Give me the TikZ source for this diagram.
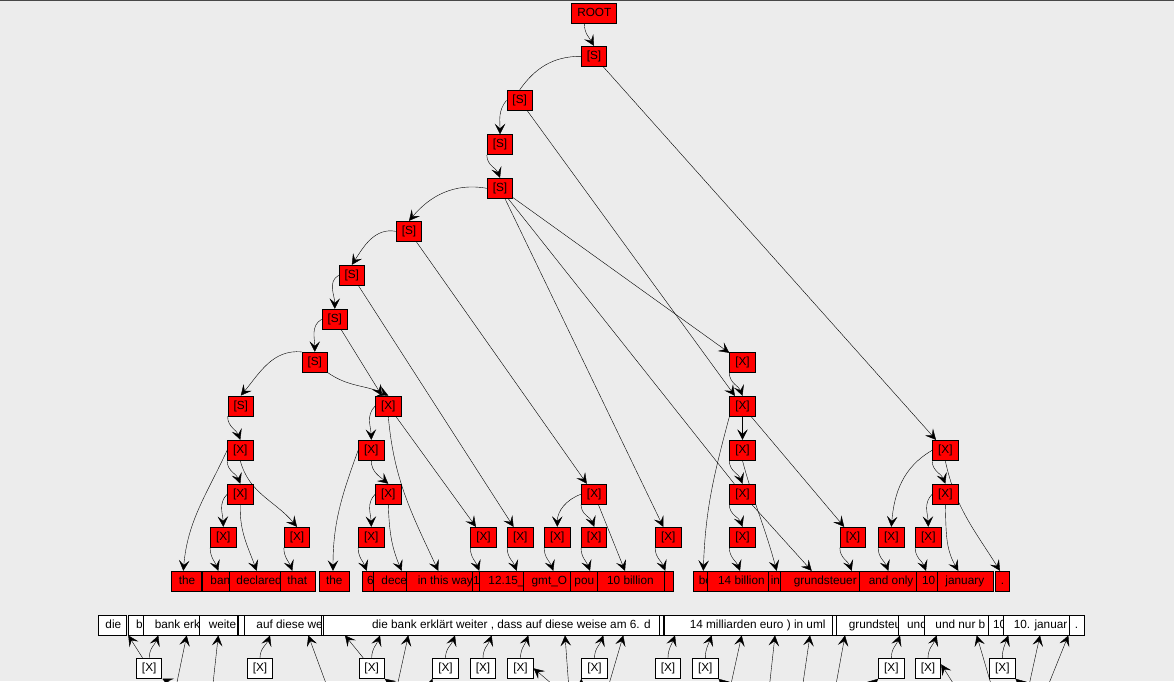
\documentclass[tikz,border=0pt]{standalone}
\usepackage{fontspec}
\setmainfont{Liberation Sans}
\usetikzlibrary{positioning, arrows.meta, backgrounds}
\definecolor{canvas}{RGB}{236,236,236}
\definecolor{rim}{RGB}{72,72,72}
\newcommand{\wordcell}[3]{\makebox[#1pt][l]{\hspace*{#2pt}#3}}

\begin{document}
\begin{tikzpicture}[x=1pt,y=1pt,->,>={Stealth[length=10.5pt,width=10.5pt,inset=4.5pt]},
    line width=0.9pt,font=\fontsize{11.8}{13}\selectfont,
    main node/.style={draw,fill=red,minimum height=20pt,inner xsep=5.5pt,inner ysep=0pt,
      text height=9pt,text depth=3pt,line width=0.9pt},
    white node/.style={main node,fill=white},
    word/.style={draw,fill=red,anchor=west,minimum height=20pt,inner sep=0pt,
      text height=9pt,text depth=3pt,line width=0.9pt},
    gloss/.style={word,fill=white,minimum height=19.3pt},
    drop/.style={out=-90,in=110},
    rise/.style={out=90,in=-110},
    swing/.style={out=225,in=92}]
    \useasboundingbox (0,0) rectangle (1174,-681);
    % derivation
    \node[main node] (root) at (594.3,-13.3) {ROOT};
    \node[main node] (s1) at (594,-56.3) {[S]};
    \node[main node] (s2) at (519.7,-100.3) {[S]};
    \node[main node] (s3) at (500,-144.7) {[S]};
    \node[main node] (s4) at (500,-188.3) {[S]};
    \node[main node] (s5) at (409,-231.3) {[S]};
    \node[main node] (s6) at (351.8,-275.3) {[S]};
    \node[main node] (s7) at (334.8,-319.3) {[S]};
    \node[main node] (s8) at (314.8,-362.3) {[S]};
    \node[main node] (s9) at (240.8,-406) {[S]};
    \node[main node] (xa) at (388.3,-406) {[X]};
    \node[main node] (xb) at (742.5,-362.3) {[X]};
    \node[main node] (xc) at (742.5,-406.3) {[X]};
    \node[main node] (xd) at (945.3,-450.3) {[X]};
    \node[main node] (xe) at (240.3,-450.3) {[X]};
    \node[main node] (xf) at (240.3,-494.2) {[X]};
    \node[main node] (xg) at (223.3,-537.3) {[X]};
    \node[main node] (xh) at (297,-537.3) {[X]};
    \node[main node] (xi) at (371.3,-450.3) {[X]};
    \node[main node] (xj) at (388.3,-494.2) {[X]};
    \node[main node] (xk) at (371.3,-537.3) {[X]};
    \node[main node] (xl) at (483.5,-537.3) {[X]};
    \node[main node] (xm) at (520.3,-537.3) {[X]};
    \node[main node] (xn) at (594.2,-494.2) {[X]};
    \node[main node] (xo) at (557.3,-537.3) {[X]};
    \node[main node] (xp) at (594.2,-537.3) {[X]};
    \node[main node] (xq) at (668.3,-537.3) {[X]};
    \node[main node] (xr) at (742.5,-450.3) {[X]};
    \node[main node] (xs) at (742.5,-494.2) {[X]};
    \node[main node] (xt) at (742.5,-537.3) {[X]};
    \node[main node] (xu) at (853,-537.3) {[X]};
    \node[main node] (xv) at (945.3,-494.2) {[X]};
    \node[main node] (xw) at (891.3,-537.3) {[X]};
    \node[main node] (xx) at (928.3,-537.3) {[X]};
    % english words
    \node[word] (the1) at (171.3,-581.3) {\wordcell{30}{7}{the}};
    \node[word] (bank) at (202.3,-581.3) {\wordcell{27}{7.7}{ban}};
    \node[word] (declared) at (229.3,-581.3) {\wordcell{51}{6.7}{declared}};
    \node[word] (that) at (280.3,-581.3) {\wordcell{35}{6.7}{that}};
    \node[word] (the2) at (319.3,-581.3) {\wordcell{30}{6.4}{the}};
    \node[word] (six) at (362.3,-581.3) {\wordcell{11}{4.4}{6}};
    \node[word] (december) at (373.3,-581.3) {\wordcell{33}{7.7}{dece}};
    \node[word] (thisway) at (406.3,-581.3) {\wordcell{65.4}{11}{in this way}};
    \node[word] (one) at (471.7,-581.3) {\wordcell{7.6}{1}{1}};
    \node[word] (clock) at (479.3,-581.3) {\wordcell{43.4}{8.7}{12.15\_}};
    \node[word] (gmt) at (522.7,-581.3) {\wordcell{47}{8.5}{gmt\_O}};
    \node[word] (pounds) at (569.7,-581.3) {\wordcell{27}{4.3}{pou}};
    \node[word] (tenbn) at (596.7,-581.3) {\wordcell{67}{10}{10 billion}};
    \node[word] (blank) at (663.7,-581.3) {\wordcell{9.6}{0}{}};
    \node[word] (be) at (693.3,-581.3) {\wordcell{14}{5}{be}};
    \node[word] (fourteenbn) at (707.3,-581.3) {\wordcell{61}{10.4}{14 billion}};
    \node[word] (inword) at (768.3,-581.3) {\wordcell{11.7}{2}{in}};
    \node[word] (grundsteuer) at (780,-581.3) {\wordcell{79.3}{13.3}{grundsteuer}};
    \node[word] (andonly) at (859.3,-581.3) {\wordcell{56.7}{9}{and only}};
    \node[word] (ten) at (916,-581.3) {\wordcell{21.3}{5.7}{10}};
    \node[word] (january) at (937.3,-581.3) {\wordcell{56}{7.7}{january}};
    \node[word] (stop) at (995.3,-581.3) {\wordcell{14}{5}{.}};
    % german words
    \node[gloss] (ddie) at (97.7,-625.3) {\wordcell{28.3}{7.3}{die}};
    \node[gloss] (db) at (128.3,-625.3) {\wordcell{15}{7.4}{b}};
    \node[gloss] (dbank) at (143.3,-625.3) {\wordcell{56}{11}{bank erk}};
    \node[gloss] (dweiter) at (199.3,-625.3) {\wordcell{37.4}{9}{weite}};
    \node[gloss] (dgap) at (238.3,-625.3) {\wordcell{5.7}{0}{}};
    \node[gloss] (dauf) at (244,-625.3) {\wordcell{76.7}{12}{auf diese we}};
    \node[gloss] (dtick) at (320.7,-625.3) {\wordcell{2}{0}{}};
    \node[gloss] (dsatz) at (322.7,-625.3) {\wordcell{336.6}{49}{die bank erklärt weiter , dass auf diese weise am 6. d}};
    \node[gloss] (dtick2) at (659.3,-625.3) {\wordcell{4}{0}{}};
    \node[gloss] (dmrd) at (664,-625.3) {\wordcell{167.7}{25.3}{14 milliarden euro ) in uml}};
    \node[gloss] (dtick3) at (831.7,-625.3) {\wordcell{4}{0}{}};
    \node[gloss] (dgrund) at (835.7,-625.3) {\wordcell{62.6}{12.6}{grundsteu}};
    \node[gloss] (dund) at (898.3,-625.3) {\wordcell{26}{8.4}{und}};
    \node[gloss] (dundnur) at (924.3,-625.3) {\wordcell{63.4}{10.7}{und nur b}};
    \node[gloss] (dzehn) at (987.7,-625.3) {\wordcell{15}{5}{10}};
    \node[gloss] (djanuar) at (1002.7,-625.3) {\wordcell{66.6}{10.6}{10. januar}};
    \node[gloss] (dpunkt) at (1069.3,-625.3) {\wordcell{14.7}{5}{.}};
    % german side
    \node[white node] (w1) at (149.2,-668.3) {[X]};
    \node[white node] (w2) at (260,-668.3) {[X]};
    \node[white node] (w3) at (371.7,-668.3) {[X]};
    \node[white node] (w4) at (445.5,-668.3) {[X]};
    \node[white node] (w5) at (483,-668.3) {[X]};
    \node[white node] (w6) at (520.5,-668.3) {[X]};
    \node[white node] (w7) at (594.5,-668.3) {[X]};
    \node[white node] (w8) at (668,-668.3) {[X]};
    \node[white node] (w9) at (705.3,-668.3) {[X]};
    \node[white node] (w10) at (891.3,-668.3) {[X]};
    \node[white node] (w11) at (928,-668.3) {[X]};
    \node[white node] (w12) at (1002.3,-668.3) {[X]};
    \coordinate (o1) at (175.4,-690);
    \coordinate (o2) at (212.3,-690);
    \coordinate (o3) at (328.4,-690);
    \coordinate (o4) at (396.3,-690);
    \coordinate (o5) at (569,-690);
    \coordinate (o6) at (607.3,-690);
    \coordinate (o7) at (729.7,-690);
    \coordinate (o8) at (769,-690);
    \coordinate (o9) at (802,-690);
    \coordinate (o10) at (835,-690);
    \coordinate (o11) at (992.7,-690);
    \coordinate (o12) at (1028,-690);
    \coordinate (o13) at (1046.3,-690);
    \coordinate (o14) at (186,-690);
    \coordinate (o15) at (399,-690);
    \coordinate (o16) at (559,-690);
    \coordinate (o17) at (731,-690);
    \coordinate (o18) at (957.4,-690);
    \coordinate (o19) at (1028,-690);
    \coordinate (o20) at (428,-692);
    \coordinate (o21) at (581,-692);
    \coordinate (o22) at (866,-690);
    \begin{scope}[on background layer]
    \clip (0,0) rectangle (1174,-681);
    \fill[canvas] (0,0) rectangle (1174,-681);
    \draw[rim,-,line width=1pt] (0,-0.5) -- (1174,-0.5);
    \path
    ([xshift=-10pt]root.south) edge[out=-90,in=120] (s1.north)
    (s1.west) edge[-,out=180,in=55] (s2.north)
    (s1) edge (xd)
    (s2.west) edge[out=230,in=90] (s3.north)
    (s2) edge (xc)
    (s3.south west) edge[drop] (s4.north)
    (s4.west) edge[out=170,in=50] (s5.north)
    (s4) edge (xb)
    (s4) edge (xq)
    (s4) edge[-] (xs)
    (s5.west) edge[out=170,in=57] (s6.north)
    (s5) edge (xn)
    (s6.west) edge[out=210,in=90] (s7.north)
    (s6) edge (xm)
    (s7.west) edge[out=210,in=90] (s8.north)
    (s7) edge (xa)
    (s8.north west) edge[out=175,in=50] (s9.north)
    (s8.south east) edge[out=-35,in=155] (xa.north)
    (s9.south west) edge[drop] (xe.north)
    (xe.west) edge[out=245,in=85] ([xshift=12pt]the1.north west)
    (xe.south west) edge[drop] (xf.north)
    (xe.south) edge[out=-75,in=130] (xh.north)
    (xf.west) edge[swing] (xg.north)
    (xf.south) edge[out=-92,in=110] ([xshift=27.4pt]declared.north west)
    (xg.south west) edge[drop] ([xshift=16pt]bank.north west)
    (xh.south west) edge[drop] ([xshift=12pt]that.north west)
    (xa.west) edge[swing] (xi.north)
    (xa.south) edge[out=-85,in=115] ([xshift=32pt]thisway.north west)
    (xa) edge (xl)
    (xi.west) edge[out=250,in=90] ([xshift=13.7pt]the2.north west)
    (xi.south) edge[out=-90,in=140] (xj.north)
    (xj.west) edge[swing] (xk.north)
    (xj.south) edge[out=-88,in=113] ([xshift=28.4pt]december.north west)
    (xk.south west) edge[drop] ([xshift=4.4pt]six.north west)
    (xl.south west) edge[drop] ([xshift=7.5pt]one.north west)
    (xm.south west) edge[drop] ([xshift=37.4pt]clock.north west)
    (xn.west) edge[out=200,in=90] (xo.north)
    (xn.south west) edge[drop] (xp.north)
    (xn) edge ([xshift=28.3pt]tenbn.north west)
    (xo.south west) edge[drop] ([xshift=30.6pt]gmt.north west)
    (xp.south west) edge[drop] ([xshift=20.3pt]pounds.north west)
    (xq.south west) edge[drop] ([xshift=1.5pt]blank.north west)
    (xb.south west) edge[drop] (xc.north)
    (xc) edge (xr)
    (xc.south west) edge[out=255,in=88] ([xshift=10pt]be.north west)
    (xc) edge (xu)
    (xr.south west) edge[drop] (xs.north)
    (xr.south) edge[out=-75,in=105] ([xshift=8.4pt]inword.north west)
    (xs.south west) edge[drop] (xt.north)
    (xs) edge ([xshift=31.7pt]grundsteuer.north west)
    (xt.south west) edge[drop] ([xshift=32.7pt]fourteenbn.north west)
    (xu.south west) edge[drop] ([xshift=71.7pt]grundsteuer.north west)
    (xd.west) edge[out=210,in=85] (xw.north)
    (xd.south west) edge[drop] (xv.north)
    (xd.south) edge[out=-78,in=122] ([xshift=4.7pt]stop.north west)
    (xv.west) edge[swing] (xx.north)
    (xv.south) edge[out=-88,in=120] ([xshift=21pt]january.north west)
    (xw.south west) edge[drop] ([xshift=29pt]andonly.north west)
    (xx.south west) edge[drop] ([xshift=10pt]ten.north west);
    \path
    (w1) edge (db.south west)
    (w1.north) edge[rise] ([xshift=15pt]dbank.south west)
    (o1) edge ([xshift=43.4pt]dbank.south west)
    (o2) edge ([xshift=19pt]dweiter.south west)
    (w2.north) edge[rise] ([xshift=26pt]dauf.south west)
    (o3) edge ([xshift=64.3pt]dauf.south west)
    (w3) edge ([xshift=22.3pt]dsatz.south west)
    (w3.north) edge[rise] ([xshift=57.3pt]dsatz.south west)
    (o4) edge ([xshift=85.6pt]dsatz.south west)
    (w4.north) edge[rise] ([xshift=132.3pt]dsatz.south west)
    (w5.north) edge[rise] ([xshift=169pt]dsatz.south west)
    (w6.north) edge[rise] ([xshift=205.6pt]dsatz.south west)
    (o5) edge ([xshift=242.3pt]dsatz.south west)
    (w7.north) edge[rise] ([xshift=280.6pt]dsatz.south west)
    (o6) edge ([xshift=300.6pt]dsatz.south west)
    (w8.north) edge[rise] ([xshift=11pt]dmrd.south west)
    (w9.north) edge[rise] ([xshift=47.7pt]dmrd.south west)
    (o7) edge ([xshift=77.7pt]dmrd.south west)
    (o8) edge ([xshift=111pt]dmrd.south west)
    (o9) edge ([xshift=146pt]dmrd.south west)
    (o10) edge ([xshift=9.3pt]dgrund.south west)
    (w10.north) edge[rise] ([xshift=1.7pt]dund.south west)
    (w11.north) edge[rise] ([xshift=12.4pt]dundnur.south west)
    (o11) edge ([xshift=52.4pt]dundnur.south west)
    (w12.north) edge[rise] ([xshift=5.6pt]djanuar.south west)
    (o12) edge ([xshift=37.3pt]djanuar.south west)
    (o13) edge ([xshift=65.6pt]djanuar.south west)
    (o14) edge (w1.south east)
    (o15) edge (w3.south east)
    (o16) edge (w6.east)
    (o17) edge (w9.south east)
    (o18) edge ([yshift=4pt]w11.east)
    (o19) edge (w12.south east)
    (o20) edge (w4.south west)
    (o21) edge (w7.south west)
    (o22) edge (w10.south west);
    \end{scope}
\end{tikzpicture}
\end{document}
